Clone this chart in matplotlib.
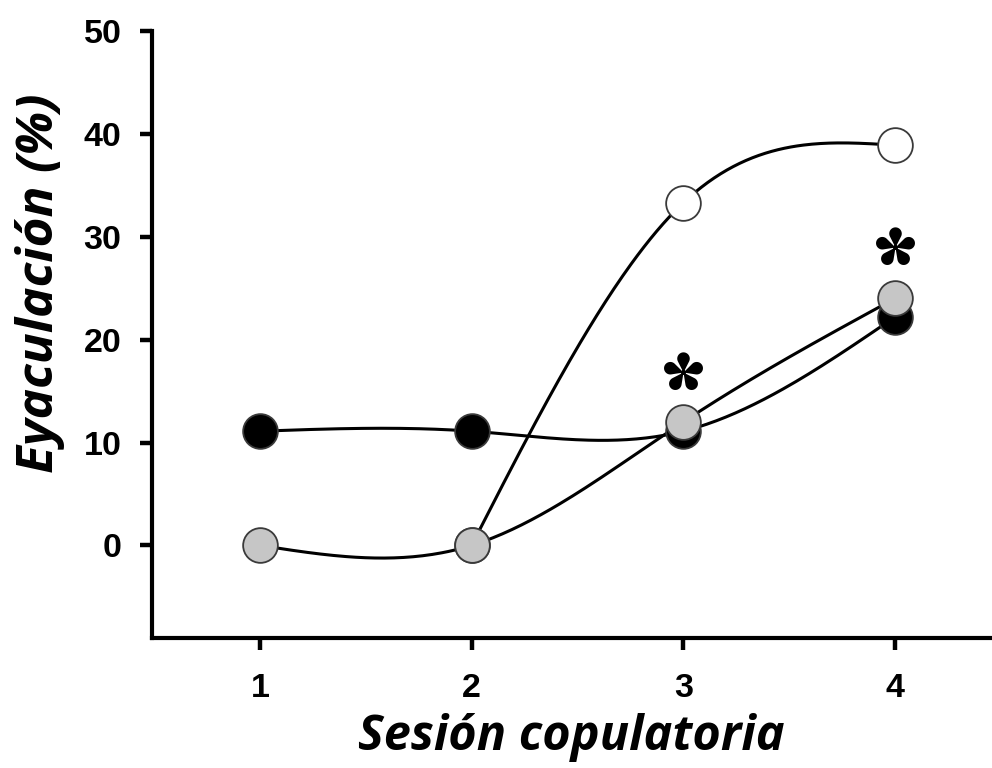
import numpy as np
import matplotlib
matplotlib.use("Agg")
import matplotlib.pyplot as plt
from matplotlib.path import Path

# Copulatory session and ejaculation percentage per group
sessions = [1, 2, 3, 4]
black_vals = [11.1, 11.1, 11.1, 22.2]
gray_vals = [0.0, 0.0, 12.0, 24.0]
white_sessions = [2, 3, 4]
white_vals = [0.0, 33.3, 38.9]
star_sessions = [3, 4]
star_heights = [16.9, 29.0]

yticks = [0, 10, 20, 30, 40, 50]

plt.rcParams["font.family"] = ["Liberation Sans", "DejaVu Sans"]
plt.rcParams["font.weight"] = "bold"


def natural_spline(x, y, n=200):
    """Natural cubic spline through the points, sampled densely."""
    x = np.asarray(x, float)
    y = np.asarray(y, float)
    m = len(x)
    h = np.diff(x)
    A = np.zeros((m, m))
    b = np.zeros(m)
    A[0, 0] = A[-1, -1] = 1.0
    for i in range(1, m - 1):
        A[i, i - 1] = h[i - 1]
        A[i, i] = 2 * (h[i - 1] + h[i])
        A[i, i + 1] = h[i]
        b[i] = 6 * ((y[i + 1] - y[i]) / h[i] - (y[i] - y[i - 1]) / h[i - 1])
    M = np.linalg.solve(A, b)
    xs = np.linspace(x[0], x[-1], n)
    idx = np.clip(np.searchsorted(x, xs) - 1, 0, m - 2)
    x0, x1 = x[idx], x[idx + 1]
    hh = x1 - x0
    t0 = x1 - xs
    t1 = xs - x0
    ys = (M[idx] * t0**3 + M[idx + 1] * t1**3) / (6 * hh) \
        + (y[idx] / hh - M[idx] * hh / 6) * t0 \
        + (y[idx + 1] / hh - M[idx + 1] * hh / 6) * t1
    return xs, ys


def asterisk_marker(d=0.62, r=0.28, arms=5):
    """Five teardrop-shaped petals joined at the hub."""
    verts, codes = [], []
    beta = np.arccos(r / d)
    for k in range(arms):
        ang = np.pi / 2 + k * 2 * np.pi / arms
        t = np.linspace(beta - np.pi, np.pi - beta, 30)
        px = d + r * np.cos(t)
        py = r * np.sin(t)
        pts = [(0.0, 0.0)] + list(zip(px, py)) + [(0.0, 0.0)]
        c, s = np.cos(ang), np.sin(ang)
        rot = [(c * a - s * b_, s * a + c * b_) for a, b_ in pts]
        verts += rot
        codes += [Path.MOVETO] + [Path.LINETO] * (len(rot) - 2) + [Path.CLOSEPOLY]
    hub = np.linspace(0, 2 * np.pi, 24)
    hv = list(zip(0.10 * np.cos(hub), 0.10 * np.sin(hub)))
    verts += hv
    codes += [Path.MOVETO] + [Path.LINETO] * (len(hv) - 2) + [Path.CLOSEPOLY]
    return Path(verts, codes)


fig = plt.figure(figsize=(9.92, 7.68), dpi=100)
ax = fig.add_axes([0.1532, 0.1693, 0.845, 0.7903])

ms = 25
for xs_, ys_, face, z in [
    (white_sessions, white_vals, "white", 2),
    (sessions, black_vals, "black", 3),
    (sessions, gray_vals, "#c6c6c6", 4),
]:
    sx, sy = natural_spline(xs_, ys_)
    ax.plot(sx, sy, color="black", lw=2.2, zorder=1)
    ax.plot(xs_, ys_, "o", ms=ms, mfc=face, mec="#3a3a3a", mew=1.3,
            zorder=z, linestyle="none")

ax.plot(star_sessions, star_heights, linestyle="none",
        marker=asterisk_marker(), ms=29, mfc="black", mec="black", mew=0,
        zorder=5)

ax.set_xlim(0.49, 4.45)
ax.set_ylim(-9, 50)
ax.set_xticks(sessions)
ax.set_yticks(yticks)
for side in ["top", "right"]:
    ax.spines[side].set_visible(False)
for side in ["left", "bottom"]:
    ax.spines[side].set_linewidth(3)
ax.tick_params(axis="both", direction="out", length=8.5, width=3.2,
               labelsize=24.5)
ax.tick_params(axis="y", pad=13.5)
ax.tick_params(axis="x", pad=16.5)

ax.set_xlabel("Sesión copulatoria", fontsize=35, fontstyle="italic",
              fontweight="bold", family="Open Sans", labelpad=7)
ax.set_ylabel("Eyaculación (%)", fontsize=37, fontstyle="italic",
              fontweight="bold", family="Open Sans")
ax.yaxis.set_label_coords(-0.104, 0.585)

fig.savefig("out.png", dpi=100)
